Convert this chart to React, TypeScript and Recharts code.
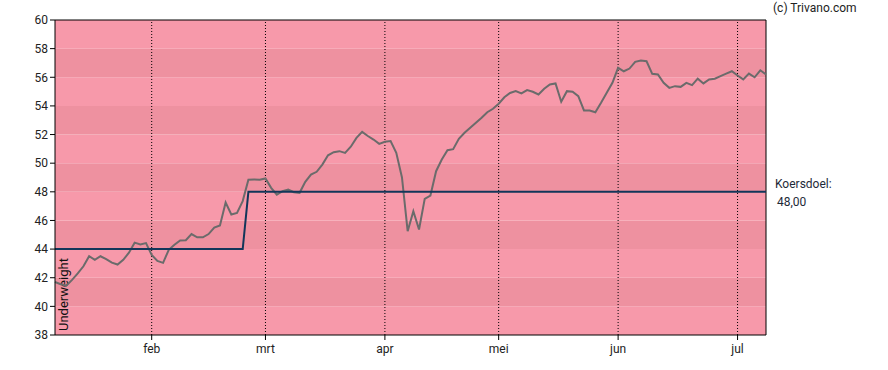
import { ComposedChart, Line, XAxis, YAxis, ReferenceArea, ReferenceLine } from 'recharts'

// one value per trading day, 2025-01-08 .. 2025-07-07
const prices = [
  41.7, 41.55, 41.45, 41.85, 42.3, 42.8, 43.5, 43.25, 43.5, 43.3,
  43.05, 42.92, 43.25, 43.75, 44.45, 44.32, 44.42, 43.6, 43.18, 43.04,
  43.95, 44.3, 44.6, 44.62, 45.05, 44.82, 44.82, 45.05, 45.5, 45.65,
  47.25, 46.42, 46.53, 47.35, 48.85, 48.86, 48.84, 48.93, 48.28, 47.8,
  48.04, 48.15, 47.97, 47.93, 48.7, 49.2, 49.4, 49.9, 50.55, 50.77,
  50.84, 50.72, 51.15, 51.77, 52.19, 51.9, 51.65, 51.35, 51.49, 51.54,
  50.72, 49.0, 45.25, 46.65, 45.37, 47.51, 47.74, 49.44, 50.26, 50.91,
  50.98, 51.7, 52.12, 52.47, 52.82, 53.17, 53.56, 53.8, 54.15, 54.6,
  54.9, 55.03, 54.87, 55.1, 54.99, 54.8, 55.2, 55.5, 55.57, 54.29,
  55.03, 54.99, 54.68, 53.68, 53.68, 53.56, 54.22, 54.92, 55.61, 56.66,
  56.42, 56.61, 57.08, 57.17, 57.12, 56.24, 56.19, 55.61, 55.26, 55.38,
  55.33, 55.61, 55.45, 55.9, 55.57, 55.85, 55.9, 56.08, 56.26, 56.42,
  56.12, 55.85, 56.26, 56.0, 56.49, 56.19,
]

// koersdoel changes (trading-day index where the new target starts)
const targetChanges = [
  { from: 0, value: 44 },
  { from: 34, value: 48 },
]

const monthTicks = [17, 37, 58, 78, 99, 120]
const monthLabels = ['feb', 'mrt', 'apr', 'mei', 'jun', 'jul']

const yTicks = [38, 40, 42, 44, 46, 48, 50, 52, 54, 56, 58, 60]
const currentTarget = 48
const adviceLabel = 'Underweight'

const data = prices.map((price, i) => {
  let target = targetChanges[0].value
  targetChanges.forEach(c => { if (i >= c.from) target = c.value })
  return { i, price, target }
})
const lastIndex = prices.length - 1

const FONT = 'Roboto, Arial, sans-serif'
const LIGHT = '#f799aa'
const DARK = '#ee91a0'

function TargetLabel(props: any) {
  const { viewBox } = props
  if (!viewBox) return null
  const x = viewBox.x + viewBox.width + 9
  const y = viewBox.y
  return (
    <g fontFamily={FONT} fontSize={12} fill="#1e2a38">
      <text x={x} y={y - 4}>Koersdoel:</text>
      <text x={x + 2} y={y + 14}>{currentTarget.toFixed(2).replace('.', ',')}</text>
    </g>
  )
}

function AdviceLabel(props: any) {
  const { viewBox } = props
  if (!viewBox) return null
  const x = viewBox.x + 13
  const y = viewBox.y + viewBox.height - 4
  return (
    <text x={x} y={y} transform={`rotate(-90 ${x} ${y})`} fontFamily={FONT} fontSize={13} fill="#111">
      {adviceLabel}
    </text>
  )
}

export default function App() {
  return (
    <div style={{ position: 'absolute', left: 0, top: 0, width: 888, height: 370, background: '#fff', fontFamily: FONT }}>
      <div style={{ position: 'absolute', left: 773, top: 1, fontSize: 12, color: '#222' }}>(c) Trivano.com</div>
      <ComposedChart width={888} height={370} data={data} margin={{ top: 20, right: 122, bottom: 5, left: 0 }}>
        {/* alternating horizontal bands */}
        {yTicks.slice(0, -1).map((v, k) => (
          <ReferenceArea
            key={v}
            y1={v}
            y2={v + 2}
            fill={k % 2 === 1 ? DARK : LIGHT}
            fillOpacity={1}
            stroke="none"
            ifOverflow="hidden"
          />
        ))}

        <XAxis
          dataKey="i"
          type="number"
          domain={[0, lastIndex]}
          ticks={monthTicks}
          tickFormatter={(v: number) => monthLabels[monthTicks.indexOf(v)]}
          tick={{ fontSize: 12, fill: '#222', fontFamily: FONT }}
          tickSize={5}
          tickMargin={4}
          axisLine={{ stroke: '#000' }}
          tickLine={{ stroke: '#000' }}
          height={30}
          interval={0}
        />
        <YAxis
          domain={[38, 60]}
          ticks={yTicks}
          tick={{ fontSize: 12, fill: '#222', fontFamily: FONT }}
          tickSize={5}
          axisLine={{ stroke: '#000' }}
          tickLine={{ stroke: '#000' }}
          width={55}
          interval={0}
        />

        {monthTicks.map(m => (
          <ReferenceLine key={m} x={m} stroke="#000" strokeDasharray="1 2" />
        ))}

        {/* frame top + right */}
        <ReferenceLine y={60} stroke="#000" />
        <ReferenceLine x={lastIndex} stroke="#000" />

        <ReferenceLine x={0} stroke="none" label={<AdviceLabel />} />

        <Line
          dataKey="price"
          stroke="#6b6b6b"
          strokeWidth={2}
          dot={false}
          type="linear"
          isAnimationActive={false}
        />
        <Line
          dataKey="target"
          stroke="#12365a"
          strokeWidth={2}
          dot={false}
          type="linear"
          isAnimationActive={false}
        />
        <ReferenceLine y={currentTarget} stroke="none" label={<TargetLabel />} />
      </ComposedChart>
    </div>
  )
}
